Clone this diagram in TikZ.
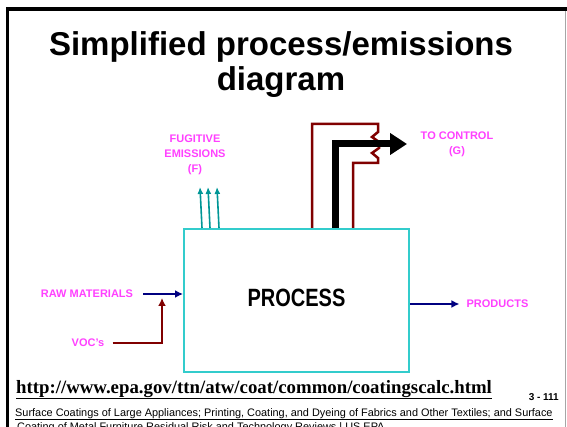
\documentclass[tikz,border=0pt]{standalone}
\usepackage{fontspec}
\setmainfont{Liberation Sans}
\newfontfamily\urlfont{Liberation Serif}
\usetikzlibrary{arrows.meta}
\definecolor{pinkt}{RGB}{255,64,255}
\definecolor{pipered}{RGB}{128,0,0}
\definecolor{navyl}{RGB}{0,0,128}
\definecolor{tealf}{RGB}{0,150,150}
\definecolor{boxcyan}{RGB}{51,204,204}
\begin{document}
\begin{tikzpicture}[x=1pt,y=-1pt,
  pinklbl/.style={text=pinkt,font=\fontsize{11}{15}\selectfont\bfseries,align=center,inner sep=0pt},
  procbox/.style={draw=boxcyan,line width=2pt,minimum width=225pt,minimum height=143pt,inner sep=0pt},
  navyarrow/.style={draw=navyl,line width=2.2pt,-{Latex[length=8pt,width=8pt]}},
  redarrow/.style={draw=pipered,line width=2.5pt,-{Latex[length=8pt,width=8pt]}},
  redpipe/.style={draw=pipered,line width=2.5pt,line join=miter},
  fugarrow/.style={draw=tealf,line width=1.6pt,-{Latex[length=7pt,width=6pt]}},
  ctlarrow/.style={draw=black,line width=7pt,line join=miter,-{Triangle[length=17pt,width=21pt]}}
]
\useasboundingbox (0,0) rectangle (567,427);
\clip (0,0) rectangle (567,427);
% slide frame
\draw[line width=3.5pt] (7.5,427) -- (7.5,9) -- (567,9);
\draw[gray!70,line width=1.5pt] (565.5,11) -- (565.5,427);
% title
\node[font=\fontsize{33}{35}\selectfont\bfseries,align=center] (title) at (281,65)
  {Simplified process/emissions\\diagram};
% process box
\node[procbox] (proc) at (296.5,300.5) {\raisebox{5pt}{\fontsize{25}{25}\selectfont\bfseries\scalebox{0.8}[1]{PROCESS}}};
% labels
\node[pinklbl] (fug) at (195,155) {FUGITIVE\\EMISSIONS\\(F)};
\node[pinklbl] (ctl) at (457,144.5) {TO CONTROL\\(G)};
\node[pinklbl] (raw) at (87,294) {RAW MATERIALS};
\node[pinklbl] (voc) at (88,343) {VOC's};
\node[pinklbl] (prod) at (497.5,304) {PRODUCTS};
% raw materials in
\draw[navyarrow] ([xshift=10pt]raw.east) -- (proc.west |- raw.east);
% VOC in
\coordinate (vocin) at (162,298);
\draw[redarrow] ([xshift=8pt]voc.east) -| (vocin);
% products out
\draw[navyarrow] (proc.east |- prod.west) -- ([xshift=-7pt]prod.west);
% fugitive emissions
\coordinate (f1) at (200,187);
\coordinate (f2) at (208,187);
\coordinate (f3) at (217,187);
\draw[fugarrow] (proc.north -| 202,0) -- (f1);
\draw[fugarrow] (proc.north -| 210,0) -- (f2);
\draw[fugarrow] (proc.north -| 219,0) -- (f3);
% duct to control
\draw[redpipe] (proc.north -| 312,0) -- (312,124) -- (378,124) -- (378,132) -- (372,137)
  -- (379,142) -- (379,148) -- (372,153) -- (378,158) -- (378,163) -- (353,163)
  -- (proc.north -| 353,0);
\coordinate (ctlbend) at (335,144);
\coordinate (ctltip) at (407,144);
\draw[ctlarrow] (proc.north -| ctlbend) -- (ctlbend) -- (ctltip);
% footer
\node[font=\urlfont\bfseries\fontsize{18.8}{20}\selectfont,anchor=base west,inner sep=0pt] (url) at (16,393)
  {\underline{http://www.epa.gov/ttn/atw/coat/common/coatingscalc.html}};
\node[font=\bfseries\fontsize{10}{12}\selectfont,anchor=base east,inner sep=0pt] (pg) at (559,400) {3 - 111};
\node[font=\fontsize{10.9}{14}\selectfont,anchor=base west,inner sep=0pt] (fn1) at (15,416)
  {\underline{Surface Coatings of Large Appliances; Printing, Coating, and Dyeing of Fabrics and Other Textiles; and Surface}};
\node[font=\fontsize{10.9}{14}\selectfont,anchor=base west,inner sep=0pt] (fn2) at (17,430)
  {\underline{Coating of Metal Furniture Residual Risk and Technology Reviews | US EPA}};
\end{tikzpicture}
\end{document}
